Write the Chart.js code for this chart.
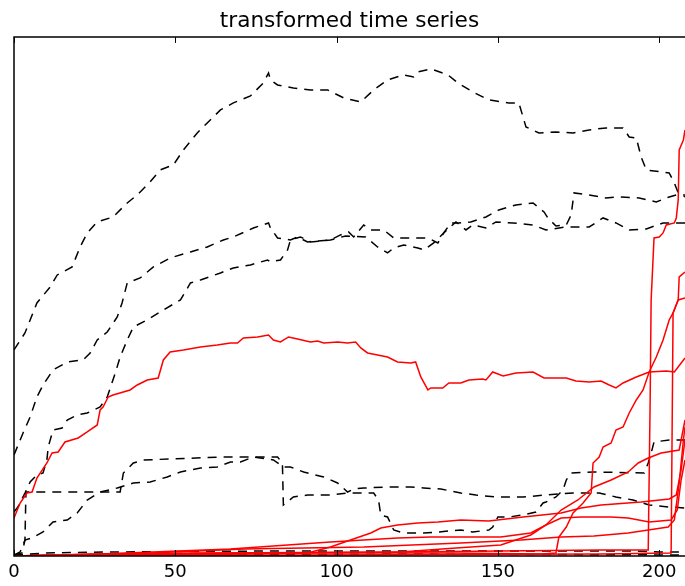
<!DOCTYPE html>
<html>
<head>
<meta charset="utf-8">
<script src="https://cdn.jsdelivr.net/npm/chart.js@4"></script>
<style>
  html, body { margin: 0; padding: 0; background: #fff; }
  canvas { display: block; }
</style>
</head>
<body>
<canvas id="tsChart" width="685" height="586"></canvas>
<script>
const xTicks = [0, 50, 100, 150, 200];

// black dashed series, [index, value]
const dashA = [[0,206],[3.4,223],[7.1,253],[11.2,269],[13.4,281],[18.0,289],[20.5,309],[22.7,323],[25.8,334],[30.7,339],[35.1,353],[38.2,361],[42.2,374],[45.3,386],[49.4,391],[52.5,406],[56.8,423],[59.9,433],[64.0,446],[68.0,453],[73.3,460],[77.3,473],[78.9,483],[79.5,476],[81.7,471],[86.6,468],[91.9,466],[97.2,466],[102.2,458],[107.5,454],[111.5,466],[115.8,476],[120.8,481],[123.9,479],[125.2,484],[129.2,487],[134.5,481],[137.6,473],[142.2,464],[147.2,456],[153.4,453],[156.5,453],[158.7,429],[162.7,423],[168.0,424],[173.3,423],[178.3,426],[183.5,428],[188.8,428],[190.7,419],[192.9,418],[194.4,399],[196.0,386],[200.6,384],[203.1,383],[204.7,373],[205.9,363],[208,359]];
const dashB = [[0,101],[2.8,123],[5.0,139],[7.1,159],[9.0,171],[12.1,186],[16.5,194],[21.4,196],[23.6,203],[25.8,216],[28.9,224],[32.0,239],[33.5,253],[35.1,273],[39.1,278],[43.2,289],[48.4,298],[54.7,304],[59.9,309],[64.9,316],[68.0,319],[74.2,328],[78.9,333],[79.5,328],[81.7,318],[85.7,316],[87.9,319],[91.0,314],[94.1,315],[98.1,316],[101.2,321],[103.7,324],[105.3,319],[108.4,331],[110.6,326],[114.6,326],[117.7,318],[123.0,318],[128.3,318],[131.4,313],[133.2,323],[135.4,333],[137.9,333],[141.6,334],[146.3,339],[150.3,346],[155.6,351],[160.9,353],[164.3,344],[165.5,338],[168.0,330],[171.2,331],[172.7,341],[173.6,363],[178.3,361],[183.5,358],[187.6,359],[193.8,358],[199.1,354],[202.2,358],[205.3,361],[208,361]];
const dashC = [[0,44],[1.2,49],[3.4,63],[5.0,74],[7.1,81],[9.0,83],[10.2,96],[10.6,109],[12.1,126],[14.9,128],[16.5,136],[19.6,141],[22.7,143],[26.7,149],[28.9,159],[31.4,183],[32.9,199],[35.1,216],[37.0,229],[41.3,236],[46.3,246],[51.6,256],[54.7,273],[57.8,276],[64.0,283],[68.0,288],[73.3,291],[78.6,296],[79.5,294],[82.6,296],[84.8,306],[85.7,316],[88.8,319],[91.9,314],[98.1,316],[102.8,320],[109.0,319],[112.7,309],[115.8,303],[117.7,308],[120.8,311],[125.2,308],[127.0,306],[130.1,313],[133.2,323],[137.0,334],[140.1,326],[142.2,331],[146.3,328],[149.4,334],[154.7,333],[160.9,331],[164.9,326],[171.2,329],[178.3,329],[182.6,338],[186.6,333],[190.7,326],[196.0,327],[201.2,333],[208,333]];
const dashD = [[0,1],[2.5,3],[3.4,16],[3.7,64],[26.7,64],[32.9,64],[33.9,83],[37.0,93],[40.1,96],[64.9,99],[67.1,99],[81.7,99],[83.2,93],[83.5,51],[86.6,59],[91.0,61],[98.1,61],[103.4,63],[111.5,63],[113.0,56],[113.7,41],[115.8,39],[117.7,26],[120.8,23],[127.0,23],[131.4,24],[138.5,26],[142.2,24],[147.2,26],[148.4,29],[150.0,39],[153.4,39],[157.8,41],[161.8,44],[164.0,53],[164.9,54],[168.0,59],[170.2,66],[171.2,76],[172.7,83],[179.5,84],[195.4,83],[196.6,93],[197.5,103],[198.4,114],[203.1,116],[208,116]];
const dashE = [[0,1],[1.9,4],[3.4,16],[5.6,18],[9.0,24],[12.1,34],[16.5,36],[19.6,43],[22.7,56],[26.7,64],[32.0,68],[37.0,73],[42.2,74],[47.5,79],[51.6,84],[57.8,88],[63.0,89],[67.1,94],[70.2,94],[74.2,99],[80.4,96],[83.5,89],[85.7,89],[89.8,84],[96.0,79],[100.3,73],[103.4,64],[105.3,67],[108.4,68],[116.8,69],[123.0,69],[127.0,68],[132.3,67],[138.5,63],[143.2,61],[149.4,59],[157.8,59],[164.9,61],[173.3,63],[181.4,63],[186.6,59],[191.9,56],[196.9,51],[203.1,49],[208,48]];
const dashF = [[0,1],[10,3],[30,4],[80,5],[150,5],[190,5],[200,4],[208,4]];
const dashG = [[0,1],[60,1],[120,2],[208,1]];

// red solid series
const redA = [[0,38],[1.9,53],[4.0,63],[5.6,64],[7.1,78],[10.2,93],[11.8,103],[13.7,104],[15.8,114],[19.9,118],[22.7,124],[25.8,131],[26.7,146],[27.6,149],[29.2,159],[30.7,161],[36.0,166],[38.2,171],[41.3,176],[44.7,178],[46.3,196],[48.4,204],[52.5,206],[57.8,209],[63.0,211],[67.1,213],[69.3,213],[71.1,218],[75.5,219],[78.9,221],[80.4,216],[82.6,214],[85.1,219],[87.9,217],[91.9,214],[94.1,215],[96.0,213],[100.3,214],[103.4,213],[105.9,214],[107.5,208],[109.6,203],[112.7,201],[115.8,199],[118.9,194],[123.0,193],[124.5,194],[126.1,179],[128.3,166],[129.2,168],[132.9,168],[134.8,173],[138.5,173],[141.0,176],[145.3,177],[146.3,176],[148.4,184],[151.6,180],[155.6,183],[160.9,184],[164.3,178],[171.2,178],[174.2,175],[178.3,174],[182.0,175],[184.5,171],[186.6,168],[188.8,173],[192.9,179],[196.9,184],[202.2,185],[204.7,184],[208,198]];
const redB = [[0,0],[26.7,2],[88.8,3],[135.4,3],[163.4,2],[168.0,3],[168.9,19],[171.2,29],[173.3,43],[176.4,53],[178.9,63],[179.5,93],[181.4,99],[182.6,109],[185.1,113],[186.6,126],[188.8,129],[190.7,143],[192.9,156],[195.0,166],[196.9,184],[199.1,199],[201.2,216],[203.1,236],[204.3,243],[205.9,256],[208,258]];
const redC = [[0,0],[41.9,2],[119.9,4],[182.0,6],[196.6,6],[197.2,156],[197.5,256],[198.4,318],[200.0,319],[201.2,323],[202.2,331],[204.7,333],[205.3,338],[205.9,356],[206.2,406],[207.5,416],[208,426]];
const redD = [[0,0],[88.8,1],[182.0,2],[203.7,3],[204.3,243],[205.9,256],[206.2,279],[208,284]];
const redE = [[0,0],[42.2,1],[73.3,2],[91.0,3],[98.1,9],[104.3,16],[110.6,23],[113.7,28],[118.9,31],[125.2,33],[131.4,34],[138.5,36],[147.2,35],[157.8,39],[169.6,43],[175.8,48],[182.0,51],[194.4,54],[203.1,57],[205.3,61],[206.8,86],[208,116]];
const redF = [[0,0],[57.8,3],[119.9,4],[137.0,8],[150.9,11],[160.2,21],[164.9,31],[169.6,46],[174.8,56],[179.8,69],[185.1,76],[190.4,84],[193.5,93],[196.6,98],[200.6,103],[206.2,106],[208,136]];
const redG = [[0,0],[26.7,2],[67.1,7],[84.8,11],[98.1,14],[108.4,16],[118.9,18],[129.2,19],[138.5,19],[150.9,19],[160.2,23],[164.9,31],[169.6,38],[175.8,39],[185.1,39],[190.4,38],[196.9,34],[203.7,36],[205.6,46],[206.8,76],[208,96]];
const redH = [[0,0],[42.2,3],[71.4,7],[108.4,9],[138.5,13],[157.1,16],[169.6,19],[179.8,20],[190.4,23],[196.6,26],[202.8,29],[204.7,36],[206.2,73],[207.5,116],[208,129]];

const dashedSeries = [dashA, dashB, dashC, dashD, dashE, dashF, dashG];
const redSeries = [redA, redB, redC, redD, redE, redF, redG, redH];

const toPoints = s => s.map(([x, y]) => ({ x, y }));

// matplotlib-like frame: spines plus inward ticks top and bottom
const frame = {
  id: 'frame',
  afterDraw(chart) {
    const { ctx, chartArea: a } = chart;
    const xs = chart.scales.x;
    ctx.save();
    ctx.strokeStyle = '#000';
    ctx.lineWidth = 1;
    ctx.beginPath();
    xTicks.forEach(v => {
      const px = Math.round(xs.getPixelForValue(v)) + 0.5;
      ctx.moveTo(px, a.top); ctx.lineTo(px, a.top + 6);
      ctx.moveTo(px, a.bottom); ctx.lineTo(px, a.bottom - 6);
    });
    ctx.stroke();
    ctx.lineWidth = 1.5;
    ctx.beginPath();
    ctx.moveTo(a.right + 2, a.top); ctx.lineTo(a.left, a.top);
    ctx.lineTo(a.left, a.bottom); ctx.lineTo(a.right + 2, a.bottom);
    ctx.stroke();
    ctx.restore();
  }
};

new Chart(document.getElementById('tsChart'), {
  type: 'line',
  data: {
    datasets: [
      ...redSeries.map(s => ({ data: toPoints(s), borderColor: '#ff0000', borderWidth: 1.5, order: 0 })),
      ...dashedSeries.map(s => ({ data: toPoints(s), borderColor: '#000000', borderWidth: 1.5, borderDash: [9, 7], order: 1 }))
    ]
  },
  options: {
    responsive: false,
    animation: false,
    devicePixelRatio: 1,
    layout: { padding: { left: 14, right: 0, top: 0, bottom: 0 } },
    elements: { point: { radius: 0 }, line: { tension: 0, fill: false } },
    plugins: {
      legend: { display: false },
      tooltip: { enabled: false },
      title: {
        display: true,
        text: 'transformed time series',
        color: '#000',
        font: { family: 'DejaVu Sans', size: 21.6, weight: 'normal' },
        padding: { top: 8, bottom: 3 }
      }
    },
    scales: {
      x: {
        type: 'linear',
        min: 0,
        max: 208,
        grid: { display: false, drawTicks: false },
        border: { display: false },
        afterBuildTicks: s => { s.ticks = xTicks.map(v => ({ value: v })); },
        afterFit: s => { s.height = 30; },
        ticks: { color: '#000', padding: 6, maxRotation: 0, autoSkip: false, font: { family: 'DejaVu Sans', size: 18 } }
      },
      y: { display: false, min: 0, max: 519 }
    }
  },
  plugins: [frame]
});
</script>
</body>
</html>
